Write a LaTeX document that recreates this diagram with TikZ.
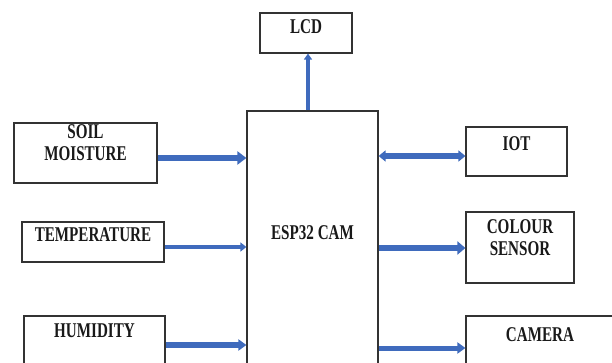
\documentclass[tikz,border=0pt]{standalone}
\usepackage{fontspec}
\newfontfamily\boxfont{Liberation Serif}[FakeStretch=0.72]
\usetikzlibrary{arrows.meta}
\definecolor{arrblue}{HTML}{3F6BBD}
\definecolor{boxline}{HTML}{333333}
\tikzset{
  box/.style={draw=boxline, line width=1.2pt, minimum width=#1, inner sep=0pt},
  txt/.style={font=\boxfont\bfseries\fontsize{21}{22}\selectfont, align=center, inner sep=0pt, text=black!90},
  arr/.style args={#1/#2/#3}{draw=arrblue, line width=#1, -{Triangle[length=#2, width=#3]}},
  darr/.style args={#1/#2/#3}{draw=arrblue, line width=#1, {Triangle[length=#2, width=#3]}-{Triangle[length=#2, width=#3]}}
}
\begin{document}
\begin{tikzpicture}[x=1pt, y=-1pt]
\useasboundingbox (0,0) rectangle (612,363);
% boxes
\node[box=92pt, minimum height=40pt, label={[txt, below=7pt]north:LCD}] (lcd) at (306,33) {};
\node[box=131pt, minimum height=258pt, label={[txt, yshift=7pt]center:ESP32 CAM}] (esp) at (312.5,240) {};
\node[box=143pt, minimum height=60pt, label={[txt, below=2pt]north:SOIL\\MOISTURE}] (soil) at (85.5,153) {};
\node[box=142pt, minimum height=40pt, label={[txt, below=6.5pt]north:TEMPERATURE}] (temp) at (93,242) {};
\node[box=141pt, minimum height=56pt, label={[txt, below=8pt]north:HUMIDITY}] (hum) at (94.5,344) {};
\node[box=101pt, minimum height=49pt, label={[txt, below=10pt]north:IOT}] (iot) at (516.5,151.5) {};
\node[box=108pt, minimum height=71pt, label={[txt, below=8pt]north:COLOUR\\SENSOR}] (col) at (520,247.5) {};
\node[box=148pt, minimum height=56pt, label={[txt, below=12pt]north:CAMERA}] (cam) at (540,344) {};
% connectors
\draw[arr=4pt/6pt/8pt] (esp.north -| 308,0) -- (lcd.south -| 308,0);
\draw[arr=6pt/9pt/13pt] (soil.east |- 0,158) -- (esp.west |- 0,158);
\draw[arr=4.5pt/6pt/9pt] (temp.east |- 0,247) -- (esp.west |- 0,247);
\draw[arr=5.5pt/8pt/11pt] (hum.east |- 0,345) -- (esp.west |- 0,345);
\draw[darr=5.5pt/7pt/11pt] (esp.east |- 0,156) -- (iot.west |- 0,156);
\draw[arr=6pt/8pt/13pt] (esp.east |- 0,248) -- (col.west |- 0,248);
\draw[arr=5pt/8pt/11pt] (esp.east |- 0,348) -- (cam.west |- 0,348);
\end{tikzpicture}
\end{document}
